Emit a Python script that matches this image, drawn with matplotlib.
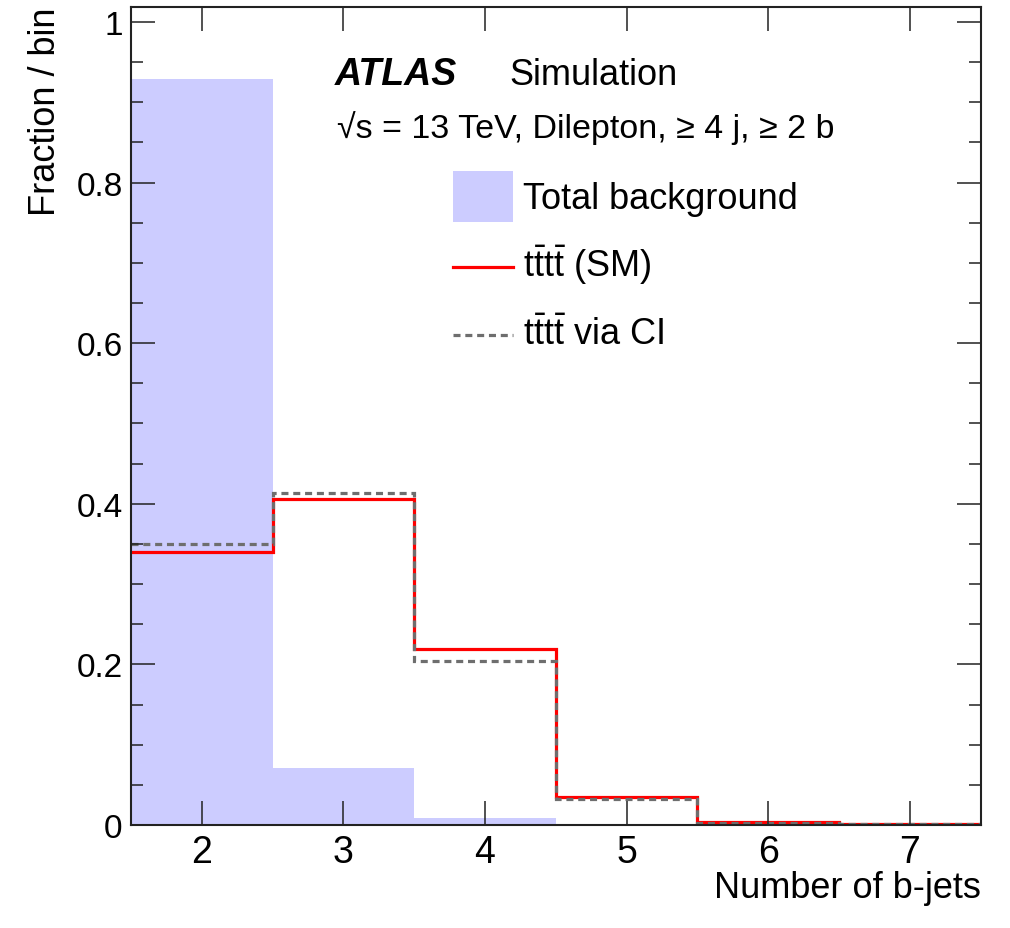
import numpy as np
import matplotlib
matplotlib.use("Agg")
import matplotlib.pyplot as plt
from matplotlib.patches import Patch
from matplotlib.lines import Line2D
from matplotlib.legend_handler import HandlerLine2D
from matplotlib.ticker import MultipleLocator, FixedLocator

plt.rcParams['font.family'] = ['Liberation Sans', 'DejaVu Sans']
plt.rcParams['mathtext.fontset'] = 'custom'
plt.rcParams['mathtext.rm'] = 'Liberation Sans'
plt.rcParams['mathtext.it'] = 'Liberation Sans:italic'

# Data
bin_edges = [1.5, 2.5, 3.5, 4.5, 5.5, 6.5, 7.5]
background = [0.929, 0.071, 0.0085, 0.0018, 0.0006, 0.0001]
tttt_sm = [0.340, 0.406, 0.219, 0.035, 0.004, 0.001]
tttt_ci = [0.350, 0.413, 0.204, 0.032, 0.003, 0.001]
xticks = [2, 3, 4, 5, 6, 7]
yticks = [0, 0.2, 0.4, 0.6, 0.8, 1.0]
ytick_labels = ['0', '0.2', '0.4', '0.6', '0.8', '1']

bg_color = '#ccccff'
sm_color = '#ff0000'
ci_color = '#6e6e6e'
ci_dash = (0, (2.2, 1.5))


class LoweredLine(HandlerLine2D):
    """Line handle drawn at the vertical centre of its legend row."""
    def __init__(self, shift, **kw):
        super().__init__(**kw)
        self._shift = shift

    def create_artists(self, legend, orig_handle, xdescent, ydescent,
                       width, height, fontsize, trans):
        arts = super().create_artists(legend, orig_handle, xdescent, ydescent,
                                      width, height, fontsize, trans)
        for a in arts:
            a.set_ydata(np.asarray(a.get_ydata(), dtype=float) - self._shift)
        return arts


fig = plt.figure(figsize=(10.1, 9.29), dpi=100)
ax = fig.add_axes([0.1297, 0.1109, 0.9708 - 0.1297, 0.9919 - 0.1109])

ax.stairs(background, bin_edges, fill=True, color=bg_color, linewidth=0)
ax.stairs(tttt_sm, bin_edges, color=sm_color, linewidth=2.3, baseline=None)
ax.stairs(tttt_ci, bin_edges, color=ci_color, linewidth=2.3, linestyle=ci_dash, baseline=None)

ax.set_xlim(1.5, 7.5)
ax.set_ylim(0, 1.0193)

ax.xaxis.set_major_locator(FixedLocator(xticks))
ax.yaxis.set_major_locator(FixedLocator(yticks))
ax.set_yticklabels(ytick_labels)
ax.yaxis.set_minor_locator(MultipleLocator(0.05))

ax.tick_params(axis='both', which='both', direction='in', top=True, right=True,
               width=1.1, color='#222222')
ax.tick_params(axis='both', which='major', length=17)
ax.tick_params(axis='y', which='minor', length=8.5)
ax.tick_params(axis='x', which='major', pad=6.5, labelsize=27)
ax.tick_params(axis='y', which='major', pad=6, labelsize=24)
for sp in ax.spines.values():
    sp.set_linewidth(1.5)
    sp.set_color('#222222')

ax.set_xlabel('Number of b-jets', fontsize=26, loc='right', labelpad=0)
ax.set_ylabel('Fraction / bin', fontsize=26, loc='top', labelpad=10)

def px2fig(x, y):
    return (x / 1010.0, (929 - y) / 929.0)

tx, ty = px2fig(335, 85)
fig.text(tx, ty, 'ATLAS', fontsize=27, fontweight='bold', fontstyle='italic', va='baseline')
tx, ty = px2fig(509, 85)
fig.text(tx, ty, 'Simulation', fontsize=26, va='baseline')
tx, ty = px2fig(337, 138)
fig.text(tx, ty, '√s = 13 TeV, Dilepton, ≥ 4 j, ≥ 2 b', fontsize=24.5, va='baseline')

handles = [Patch(facecolor=bg_color, edgecolor='none'),
           Line2D([], [], color=sm_color, linewidth=2.3),
           Line2D([], [], color=ci_color, linewidth=2.3, linestyle=ci_dash)]
labels = ['Total background',
          r'$\mathregular{t\bar{t}t\bar{t}}$ (SM)',
          r'$\mathregular{t\bar{t}t\bar{t}}$ via CI']
lx, ly = px2fig(453, 172)
leg = fig.legend(handles, labels, loc='upper left', bbox_to_anchor=(lx, ly),
                 frameon=False, fontsize=26, handlelength=1.66, handleheight=1.80,
                 labelspacing=0.47, handletextpad=0.28, borderaxespad=0, borderpad=0,
                 handler_map={handles[1]: LoweredLine(6.5), handles[2]: LoweredLine(6.5)})

fig.savefig('out.png', dpi=100)
